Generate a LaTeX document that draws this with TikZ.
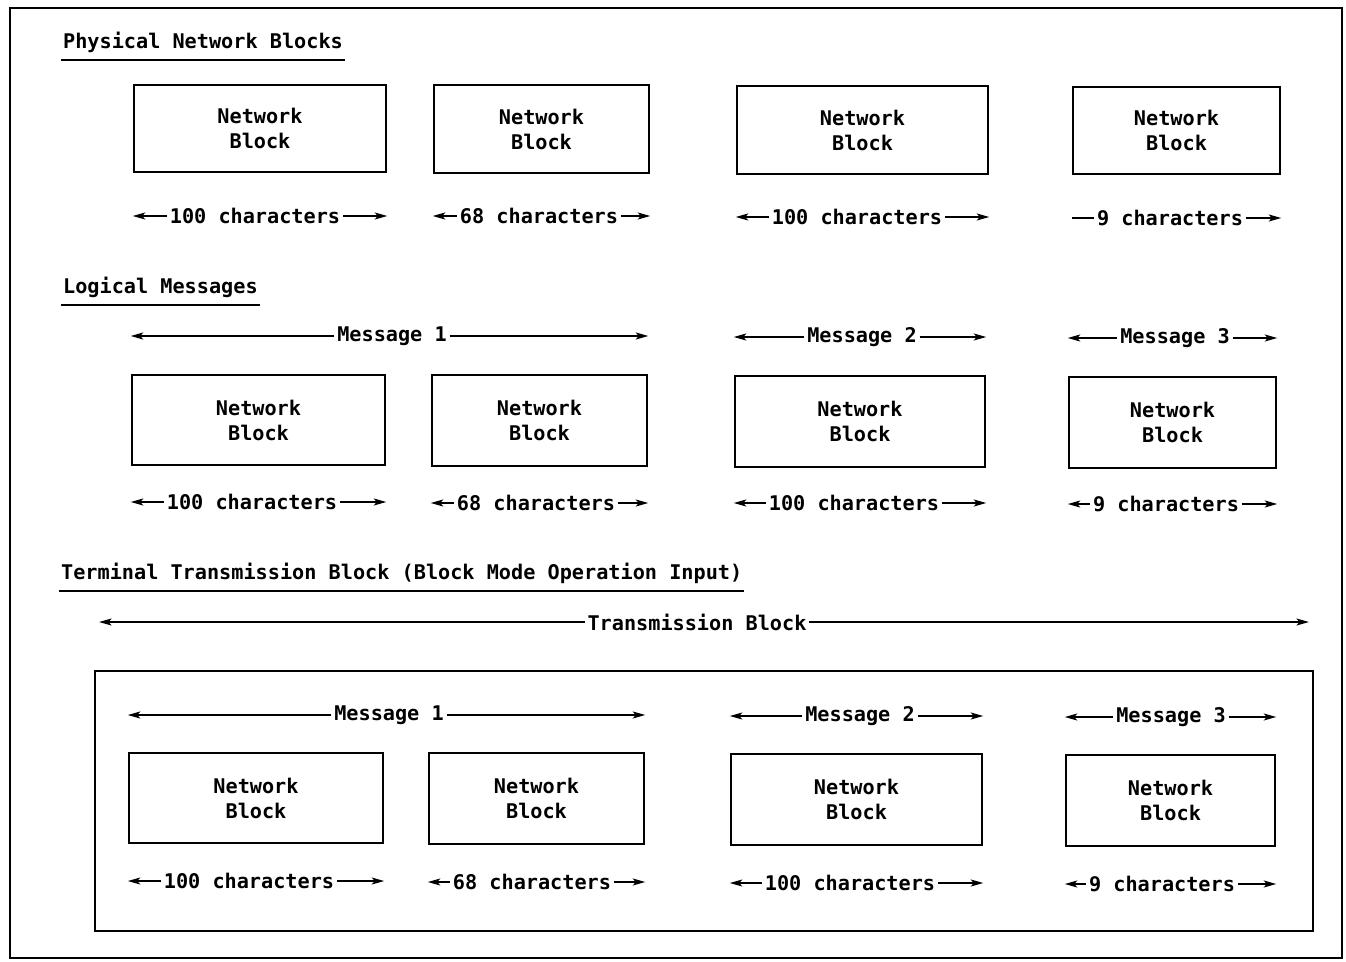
\documentclass[tikz,border=0pt]{standalone}
\usepackage{fontspec}
\setmainfont{DejaVu Sans Mono}
\usetikzlibrary{arrows.meta, positioning}
\tikzset{
    every node/.style={font=\fontsize{11.5}{14.2}\selectfont\bfseries},
    % Network block box
    netblock/.style={
        rectangle,
        draw,
        line width=1.4pt,
        align=center,
        inner sep=0pt
    },
    % Size / message label on a dimension line
    dimlbl/.style={inner sep=1.5pt},
    % Section heading
    heading/.style={anchor=west, inner sep=1pt},
    % Dimension arrow
    dimarrow/.style={
        -{Stealth[length=0.25cm,width=0.14cm,inset=0.06cm]},
        line width=1pt
    },
    dimline/.style={line width=1pt}
}
\newcommand{\netblk}[5]{% name, left, top, right, bottom
    \node (#1) [netblock, minimum width={(#4-#2)*0.02cm}, minimum height={(#5-#3)*0.02cm}]
        at ({(#2+#4)/2},{(#3+#5)/2}) {Network\\Block};}
\begin{document}
\begin{tikzpicture}[x=0.02cm, y=-0.02cm]
    \useasboundingbox (0,0) rectangle (1346,961);
    % Outer frame
    \draw[line width=1.1pt] (10,8) rectangle (1342,958);

    % Physical Network Blocks
    \node (h1) [heading] at (61,42) {Physical Network Blocks};
    \draw[line width=1.3pt] ([yshift=-3pt]h1.south west) -- ([yshift=-3pt]h1.south east);
    \netblk{pa}{134}{85}{386}{172}
    \netblk{pb}{434}{85}{649}{173}
    \netblk{pc}{737}{86}{988}{174}
    \netblk{pd}{1073}{87}{1280}{174}
    \node (pla) [dimlbl] at (255,216) {100 characters};
    \node (plb) [dimlbl] at (539,216) {68 characters};
    \node (plc) [dimlbl] at (857,217) {100 characters};
    \node (pld) [dimlbl] at (1170,218) {9 characters};
    \draw[dimarrow] (pla.west) -- (pla.west -| pa.west);
    \draw[dimarrow] (pla.east) -- (pla.east -| pa.east);
    \draw[dimarrow] (plb.west) -- (plb.west -| pb.west);
    \draw[dimarrow] (plb.east) -- (plb.east -| pb.east);
    \draw[dimarrow] (plc.west) -- (plc.west -| pc.west);
    \draw[dimarrow] (plc.east) -- (plc.east -| pc.east);
    \draw[dimline] (pld.west) -- (pld.west -| pd.west);
    \draw[dimarrow] (pld.east) -- (pld.east -| pd.east);

    % Logical Messages
    \node (h2) [heading] at (61,287) {Logical Messages};
    \draw[line width=1.3pt] ([yshift=-3pt]h2.south west) -- ([yshift=-3pt]h2.south east);
    \netblk{la}{132}{375}{385}{465}
    \netblk{lb}{432}{375}{647}{466}
    \netblk{lc}{735}{376}{985}{467}
    \netblk{ld}{1069}{377}{1276}{468}
    \node (lm1) [dimlbl] at (392,336) {Message 1};
    \node (lm2) [dimlbl] at (862,337) {Message 2};
    \node (lm3) [dimlbl] at (1175,338) {Message 3};
    \draw[dimarrow] (lm1.west) -- (lm1.west -| la.west);
    \draw[dimarrow] (lm1.east) -- (lm1.east -| lb.east);
    \draw[dimarrow] (lm2.west) -- (lm2.west -| lc.west);
    \draw[dimarrow] (lm2.east) -- (lm2.east -| lc.east);
    \draw[dimarrow] (lm3.west) -- (lm3.west -| ld.west);
    \draw[dimarrow] (lm3.east) -- (lm3.east -| ld.east);
    \node (lla) [dimlbl] at (252,502) {100 characters};
    \node (llb) [dimlbl] at (536,503) {68 characters};
    \node (llc) [dimlbl] at (854,503) {100 characters};
    \node (lld) [dimlbl] at (1166,504) {9 characters};
    \draw[dimarrow] (lla.west) -- (lla.west -| la.west);
    \draw[dimarrow] (lla.east) -- (lla.east -| la.east);
    \draw[dimarrow] (llb.west) -- (llb.west -| lb.west);
    \draw[dimarrow] (llb.east) -- (llb.east -| lb.east);
    \draw[dimarrow] (llc.west) -- (llc.west -| lc.west);
    \draw[dimarrow] (llc.east) -- (llc.east -| lc.east);
    \draw[dimarrow] (lld.west) -- (lld.west -| ld.west);
    \draw[dimarrow] (lld.east) -- (lld.east -| ld.east);

    % Terminal Transmission Block
    \node (h3) [heading] at (59,573) {Terminal Transmission Block (Block Mode Operation Input)};
    \draw[line width=1.3pt] ([yshift=-3pt]h3.south west) -- ([yshift=-3pt]h3.south east);
    \node (tb) [dimlbl] at (697,622) {Transmission Block};
    \node (frame) [draw, line width=1.4pt, minimum width={1218*0.02cm}, minimum height={260*0.02cm}, inner sep=0pt] at (704,801) {};
    \draw[dimarrow] (tb.west) -- ([xshift=3pt]tb.west -| frame.west);
    \draw[dimarrow] (tb.east) -- ([xshift=-3pt]tb.east -| frame.east);
    \netblk{ta}{129}{753}{383}{843}
    \netblk{tb2}{429}{753}{644}{844}
    \netblk{tc}{731}{754}{982}{845}
    \netblk{td}{1066}{755}{1275}{846}
    \node (tm1) [dimlbl] at (389,715) {Message 1};
    \node (tm2) [dimlbl] at (860,716) {Message 2};
    \node (tm3) [dimlbl] at (1171,717) {Message 3};
    \draw[dimarrow] (tm1.west) -- (tm1.west -| ta.west);
    \draw[dimarrow] (tm1.east) -- (tm1.east -| tb2.east);
    \draw[dimarrow] (tm2.west) -- (tm2.west -| tc.west);
    \draw[dimarrow] (tm2.east) -- (tm2.east -| tc.east);
    \draw[dimarrow] (tm3.west) -- (tm3.west -| td.west);
    \draw[dimarrow] (tm3.east) -- (tm3.east -| td.east);
    \node (tla) [dimlbl] at (249,881) {100 characters};
    \node (tlb) [dimlbl] at (532,882) {68 characters};
    \node (tlc) [dimlbl] at (850,883) {100 characters};
    \node (tld) [dimlbl] at (1162,884) {9 characters};
    \draw[dimarrow] (tla.west) -- (tla.west -| ta.west);
    \draw[dimarrow] (tla.east) -- (tla.east -| ta.east);
    \draw[dimarrow] (tlb.west) -- (tlb.west -| tb2.west);
    \draw[dimarrow] (tlb.east) -- (tlb.east -| tb2.east);
    \draw[dimarrow] (tlc.west) -- (tlc.west -| tc.west);
    \draw[dimarrow] (tlc.east) -- (tlc.east -| tc.east);
    \draw[dimarrow] (tld.west) -- (tld.west -| td.west);
    \draw[dimarrow] (tld.east) -- (tld.east -| td.east);
\end{tikzpicture}
\end{document}
